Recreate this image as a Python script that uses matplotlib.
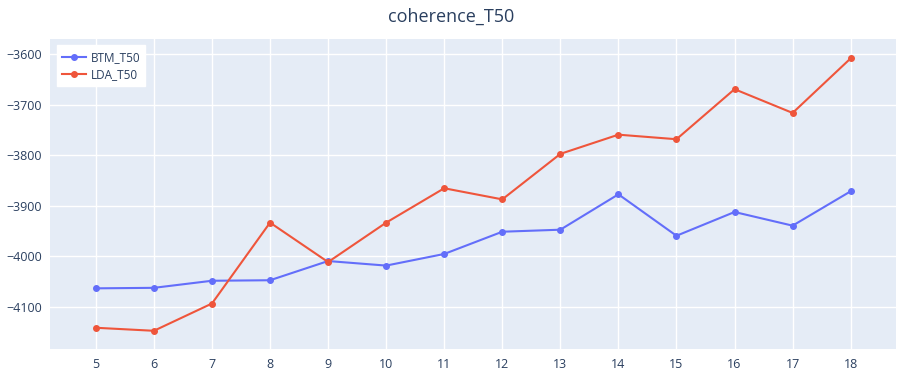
import matplotlib
matplotlib.use("Agg")
import matplotlib.pyplot as plt

# Values
num_topics = [5, 6, 7, 8, 9, 10, 11, 12, 13, 14, 15, 16, 17, 18]
btm_t50 = [-4063, -4062, -4048, -4047, -4009, -4018, -3995,
           -3951, -3947, -3877, -3959, -3912, -3939, -3871]
lda_t50 = [-4141, -4147, -4093, -3933, -4011, -3933, -3865,
           -3887, -3797, -3759, -3768, -3669, -3716, -3608]
y_ticks = [-4100, -4000, -3900, -3800, -3700, -3600]

plt.rcParams['font.family'] = ['Open Sans', 'DejaVu Sans']
text_color = '#2a3f5f'

fig = plt.figure(figsize=(9.02, 3.8), dpi=100)
ax = fig.add_axes([0.0554, 0.0808, 0.9379, 0.8162])
ax.set_facecolor('#E5ECF6')

ax.plot(num_topics, btm_t50, color='#636efa', linewidth=1.5,
        marker='o', markersize=4, label='BTM_T50', zorder=3)
ax.plot(num_topics, lda_t50, color='#EF553B', linewidth=1.5,
        marker='o', markersize=4, label='LDA_T50', zorder=3)

ax.set_xlim(4.21, 18.78)
ax.set_ylim(-4183.6, -3570)
ax.set_xticks(num_topics)
ax.set_yticks(y_ticks)
ax.grid(True, color='white', linewidth=1)
ax.set_axisbelow(True)
for s in ax.spines.values():
    s.set_visible(False)
ax.tick_params(length=0, labelsize=9, colors=text_color, pad=6)

fig.suptitle('coherence_T50', x=0.5, y=0.98, fontsize=13, color=text_color)

leg = ax.legend(loc='upper left', bbox_to_anchor=(0.008, 0.98), frameon=True,
                fancybox=False, fontsize=8.5, handlelength=2.0,
                borderpad=0.45, labelspacing=0.35, handletextpad=0.4,
                borderaxespad=0.0)
leg.get_frame().set_facecolor('white')
leg.get_frame().set_edgecolor('white')
leg.get_frame().set_alpha(1)
for t in leg.get_texts():
    t.set_color(text_color)

fig.savefig('out.png', dpi=100)
